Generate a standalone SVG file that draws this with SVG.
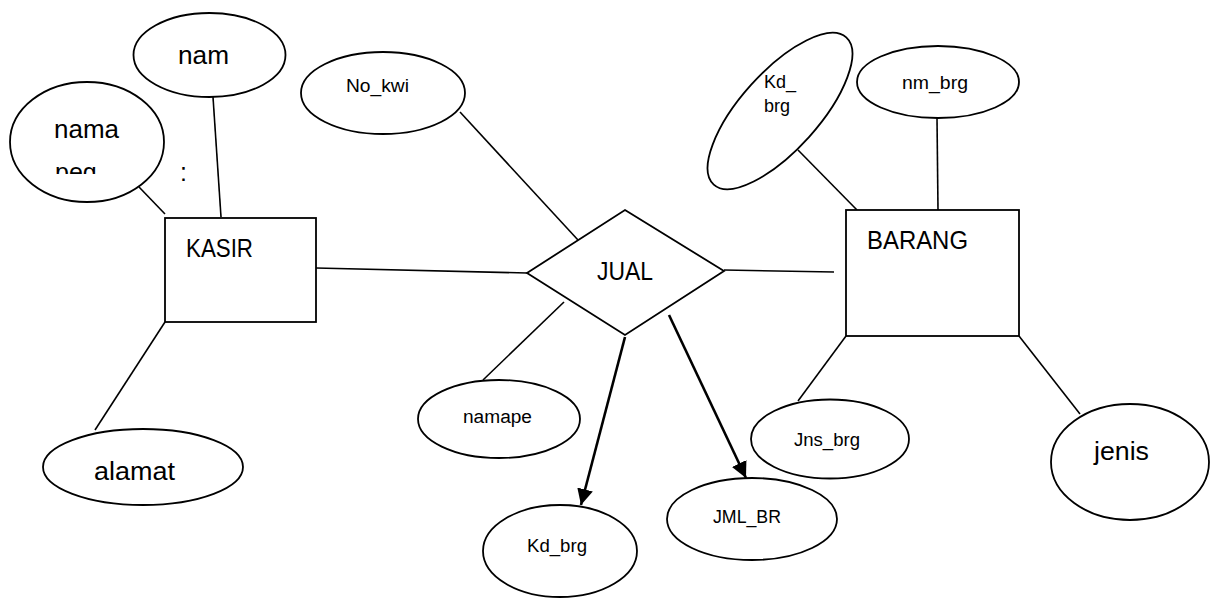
<svg xmlns="http://www.w3.org/2000/svg" width="1219" height="598" viewBox="0 0 1219 598">
  <style>
    .shape { fill: #ffffff; stroke: #000000; stroke-width: 1.8; }
    .link { fill: none; stroke: #000000; stroke-width: 1.6; }
    .arrow { fill: none; stroke: #000000; stroke-width: 2.6; marker-end: url(#head); }
    .big { font-family: "Liberation Sans", Arial, sans-serif; font-size: 25px; fill: #000000; }
    .small { font-family: "Liberation Sans", Arial, sans-serif; font-size: 18px; fill: #000000; }
  </style>
  <defs>
    <marker id="head" markerUnits="userSpaceOnUse" markerWidth="16" markerHeight="16" refX="16" refY="8" orient="auto">
      <path d="M0,0 L16,8 L0,16 z" fill="#000000"/>
    </marker>
    <clipPath id="namaClip">
      <rect x="0" y="0" width="200" height="174"/>
    </clipPath>
  </defs>

  <rect width="1219" height="598" fill="#ffffff"/>

  <!-- connectors -->
  <g id="connectors">
    <line class="link" x1="213" y1="97" x2="221" y2="217"/>
    <line class="link" x1="139" y1="187" x2="165" y2="214"/>
    <line class="link" x1="165" y1="322" x2="95" y2="430"/>
    <line class="link" x1="316" y1="268" x2="527" y2="273"/>
    <line class="link" x1="460" y1="112" x2="578" y2="240"/>
    <line class="link" x1="564" y1="302" x2="483" y2="380"/>
    <line class="link" x1="724" y1="270" x2="834" y2="272"/>
    <line class="link" x1="798" y1="150" x2="857" y2="210"/>
    <line class="link" x1="937" y1="118" x2="938" y2="210"/>
    <line class="link" x1="846" y1="336" x2="798" y2="401"/>
    <line class="link" x1="1019" y1="336" x2="1080" y2="414"/>
    <line class="arrow" x1="625" y1="337" x2="581" y2="505"/>
    <line class="arrow" x1="669" y1="315" x2="746" y2="478"/>
  </g>

  <!-- KASIR entity and its attributes -->
  <g id="kasir">
    <rect class="shape" x="165" y="218" width="151" height="104"/>
    <text class="big" x="186" y="257" textLength="67" lengthAdjust="spacingAndGlyphs">KASIR</text>
  </g>
  <g id="attr-nam">
    <ellipse class="shape" cx="209.5" cy="55" rx="76" ry="42"/>
    <text class="big" x="178" y="64" textLength="51" lengthAdjust="spacingAndGlyphs">nam</text>
  </g>
  <g id="attr-nama-peg">
    <ellipse class="shape" cx="87" cy="142" rx="77" ry="60"/>
    <g clip-path="url(#namaClip)">
      <text class="big" x="54" y="138" textLength="65" lengthAdjust="spacingAndGlyphs">nama</text>
      <text class="big" x="55" y="181">peg</text>
    </g>
  </g>
  <text class="big" x="180" y="181">:</text>
  <g id="attr-alamat">
    <ellipse class="shape" cx="143" cy="467" rx="100" ry="38"/>
    <text class="big" x="94" y="480" textLength="81" lengthAdjust="spacingAndGlyphs">alamat</text>
  </g>

  <!-- JUAL relationship and its attributes -->
  <g id="jual">
    <polygon class="shape" points="625,210 724,271 625,335 527,273"/>
    <text class="big" x="597" y="280" textLength="56" lengthAdjust="spacingAndGlyphs">JUAL</text>
  </g>
  <g id="attr-no-kwi">
    <ellipse class="shape" cx="383" cy="93" rx="82" ry="41"/>
    <text class="small" x="346" y="92" textLength="63" lengthAdjust="spacingAndGlyphs">No_kwi</text>
  </g>
  <g id="attr-namape">
    <ellipse class="shape" cx="499" cy="419" rx="81" ry="39"/>
    <text class="small" x="463" y="423" textLength="69" lengthAdjust="spacingAndGlyphs">namape</text>
  </g>
  <g id="attr-kd-brg-jual">
    <ellipse class="shape" cx="560" cy="551" rx="77" ry="46"/>
    <text class="small" x="527" y="552" textLength="60" lengthAdjust="spacingAndGlyphs">Kd_brg</text>
  </g>
  <g id="attr-jml-br">
    <ellipse class="shape" cx="752" cy="519" rx="85" ry="41"/>
    <text class="small" x="713" y="523" textLength="68" lengthAdjust="spacingAndGlyphs">JML_BR</text>
  </g>

  <!-- BARANG entity and its attributes -->
  <g id="barang">
    <rect class="shape" x="846" y="210" width="173" height="126"/>
    <text class="big" x="867" y="249" textLength="101" lengthAdjust="spacingAndGlyphs">BARANG</text>
  </g>
  <g id="attr-kd-brg">
    <ellipse class="shape" cx="780" cy="111" rx="99" ry="39" transform="rotate(-48 780 111)"/>
    <text class="small" x="764" y="88">Kd_</text>
    <text class="small" x="764" y="112">brg</text>
  </g>
  <g id="attr-nm-brg">
    <ellipse class="shape" cx="938" cy="82" rx="81" ry="36"/>
    <text class="small" x="902" y="89" textLength="66" lengthAdjust="spacingAndGlyphs">nm_brg</text>
  </g>
  <g id="attr-jns-brg">
    <ellipse class="shape" cx="830" cy="439" rx="79" ry="39.5"/>
    <text class="small" x="794" y="446" textLength="66" lengthAdjust="spacingAndGlyphs">Jns_brg</text>
  </g>
  <g id="attr-jenis">
    <ellipse class="shape" cx="1130" cy="462" rx="79" ry="58"/>
    <text class="big" x="1094" y="460" textLength="55" lengthAdjust="spacingAndGlyphs">jenis</text>
  </g>
</svg>
